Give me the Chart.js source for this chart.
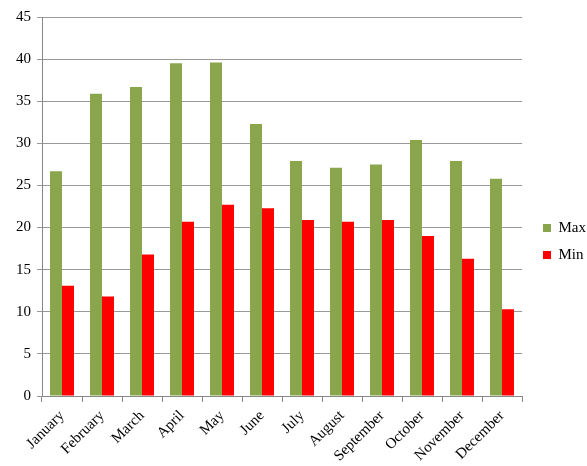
<!DOCTYPE html>
<html>
<head>
<meta charset="utf-8">
<script src="https://cdn.jsdelivr.net/npm/chart.js@4.4.0/dist/chart.umd.min.js"></script>
<style>
  html, body { margin: 0; padding: 0; background: #fff; }
  #wrap { width: 587px; height: 466px; }
</style>
</head>
<body>
<div id="wrap"><canvas id="grafico"></canvas></div>
<script>
// datos
const meses = ["January", "February", "March", "April", "May", "June",
  "July", "August", "September", "October", "November", "December"];
const maxTemp = [26.7, 35.9, 36.7, 39.5, 39.6, 32.3, 27.9, 27.1, 27.5, 30.4, 27.9, 25.8];
const minTemp = [13.1, 11.8, 16.8, 20.7, 22.7, 22.3, 20.9, 20.7, 20.9, 19.0, 16.3, 10.3];
const yTicks = [0, 5, 10, 15, 20, 25, 30, 35, 40, 45];

const fuente = { family: "'Liberation Serif', 'Times New Roman', serif", size: 15 };

// mover la leyenda un poco a la derecha, como en el original
const moverLeyenda = {
  id: "moverLeyenda",
  afterLayout(chart) {
    chart.legend.left += 9;
    chart.legend.right += 9;
  }
};

new Chart(document.getElementById("grafico").getContext("2d"), {
  type: "bar",
  data: {
    labels: meses,
    datasets: [
      { label: "Max", data: maxTemp, backgroundColor: "#8aa64c" },
      { label: "Min", data: minTemp, backgroundColor: "#ff0000" }
    ]
  },
  options: {
    responsive: true,
    maintainAspectRatio: false,
    animation: false,
    layout: { padding: { top: 17, right: 0, left: 0, bottom: 0 } },
    datasets: { bar: { categoryPercentage: 0.6, barPercentage: 1.0 } },
    plugins: {
      legend: {
        position: "right",
        labels: {
          boxWidth: 8, boxHeight: 8, padding: 12,
          color: "#000", font: fuente
        }
      },
      tooltip: { enabled: false }
    },
    scales: {
      x: {
        afterFit: s => { s.height = 70; },
        grid: { offset: true, drawOnChartArea: false, color: "#888", tickLength: 6 },
        border: { color: "#888" },
        ticks: { color: "#000", font: fuente, maxRotation: 45, minRotation: 45, padding: 5 }
      },
      y: {
        min: 0, max: 45,
        afterFit: s => { s.width = 42; },
        afterBuildTicks: axis => { axis.ticks = yTicks.map(v => ({ value: v })); },
        grid: { color: "#999", tickLength: 5 },
        border: { color: "#888" },
        ticks: { color: "#000", font: fuente, padding: 6 }
      }
    }
  },
  plugins: [moverLeyenda]
});
</script>
</body>
</html>
